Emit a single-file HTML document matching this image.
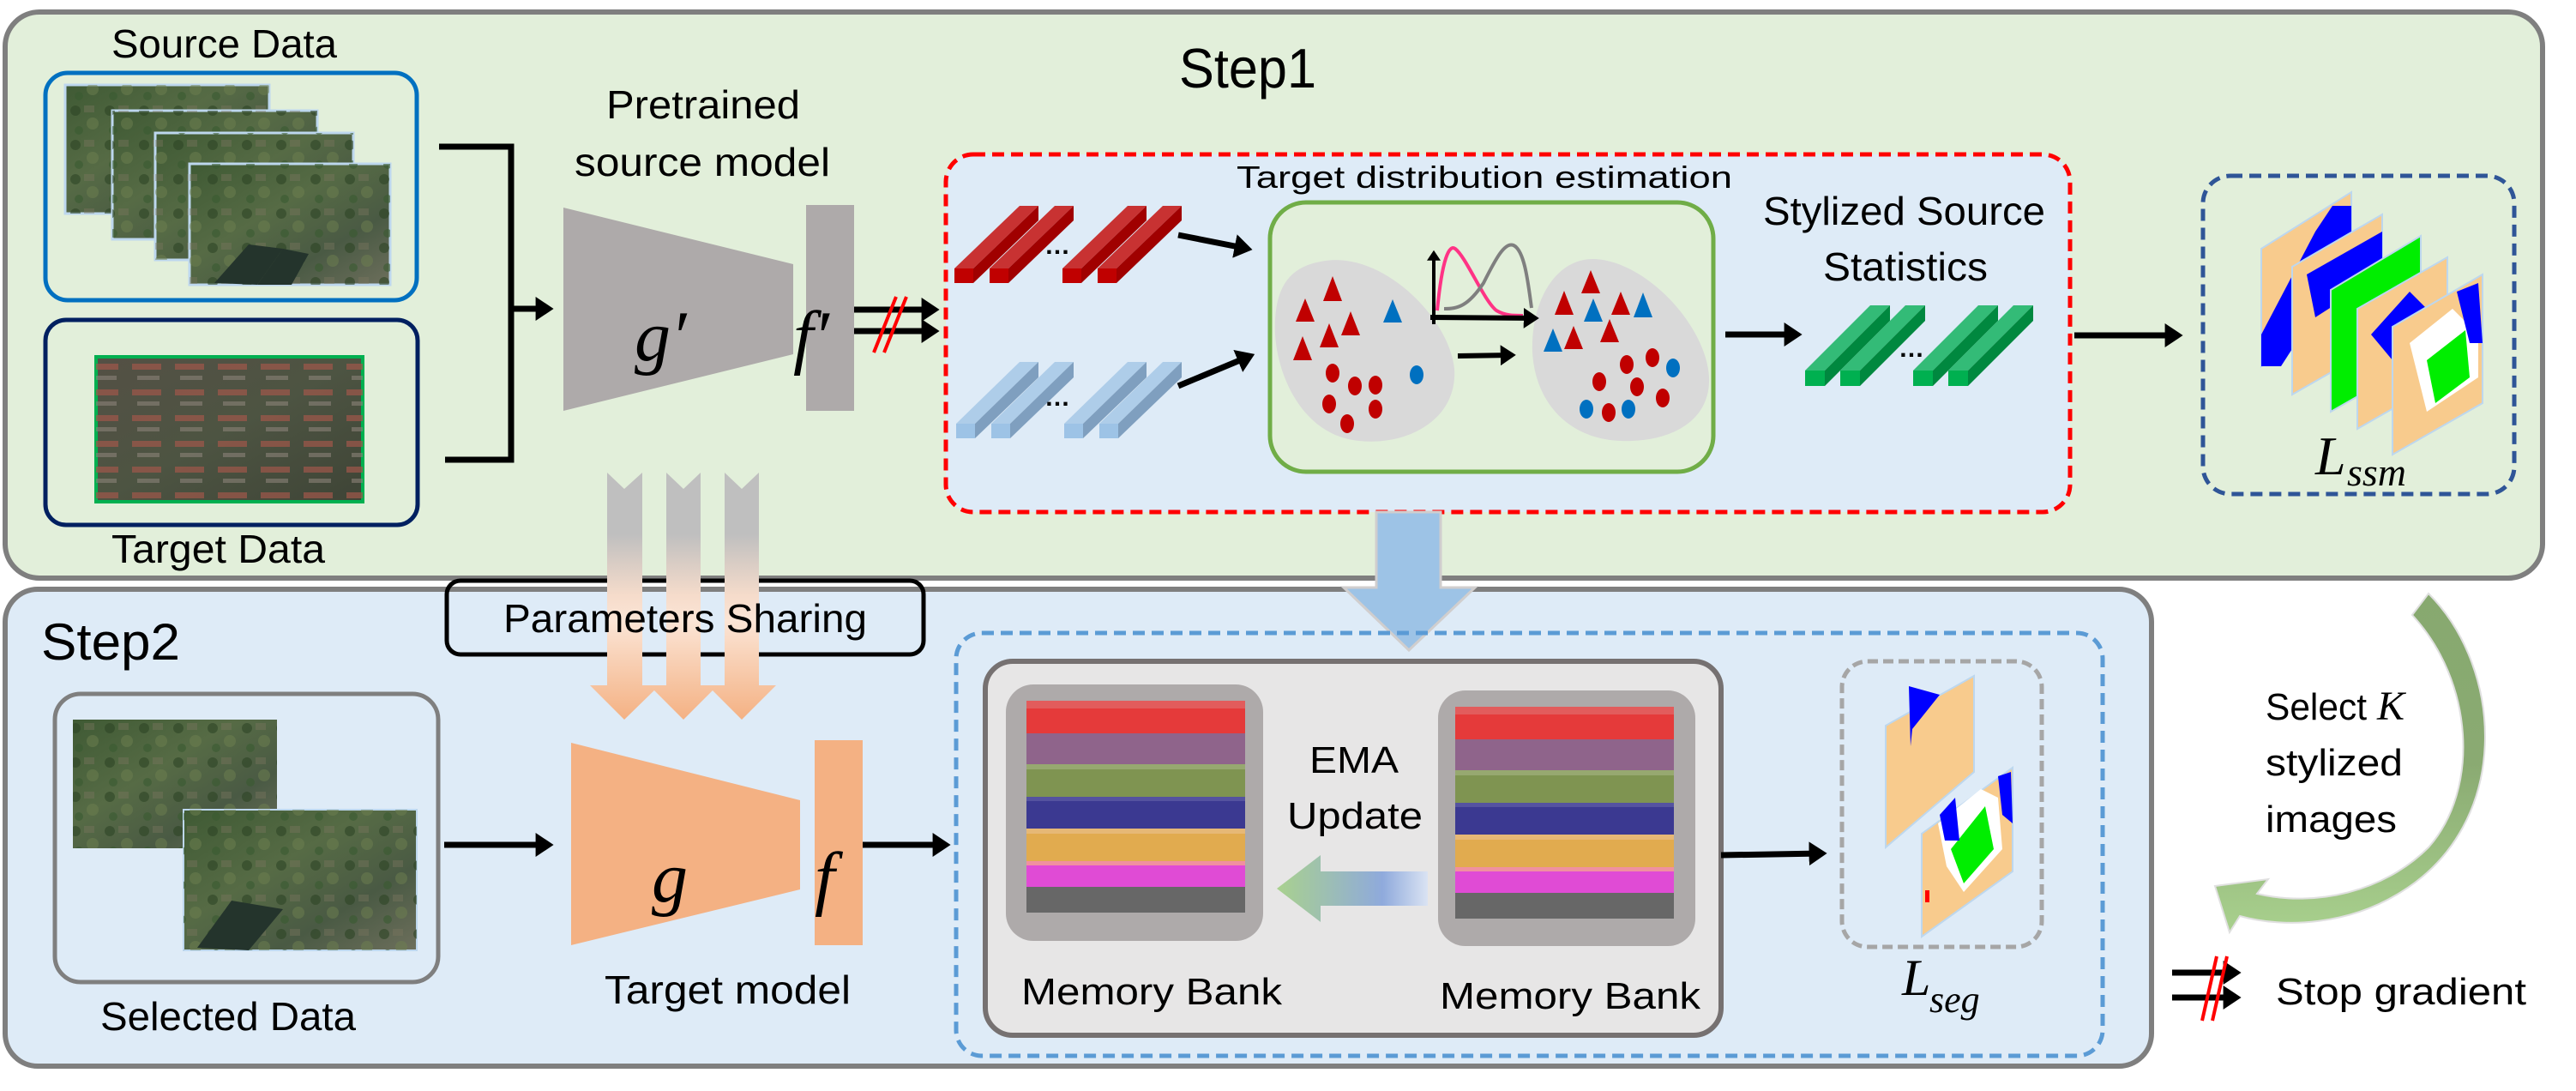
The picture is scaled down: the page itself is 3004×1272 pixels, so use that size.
<!DOCTYPE html>
<html><head><meta charset="utf-8"><style>
html,body{margin:0;padding:0;background:#fff;}
svg{display:block;}
text{font-family:"Liberation Sans",sans-serif;fill:#000;}
.m{font-family:"Liberation Serif",serif;font-style:italic;}
</style></head><body>
<svg width="3004" height="1272" viewBox="0 0 3004 1272" xmlns="http://www.w3.org/2000/svg">
<defs>
<marker id="ah" markerWidth="4" markerHeight="4" refX="2.2" refY="2" orient="auto" markerUnits="strokeWidth"><path d="M0,0 L3,2 L0,4 Z" fill="#000"/></marker>
<linearGradient id="aer" x1="0" y1="0" x2="1" y2="1"><stop offset="0" stop-color="#3f5a34"/><stop offset="0.4" stop-color="#566b45"/><stop offset="0.7" stop-color="#4a5a44"/><stop offset="1" stop-color="#6d6f5c"/></linearGradient>
<linearGradient id="aer2" x1="0" y1="0" x2="1" y2="1"><stop offset="0" stop-color="#545045"/><stop offset="0.5" stop-color="#4d5442"/><stop offset="1" stop-color="#3e4436"/></linearGradient>
<pattern id="tex" width="40" height="40" patternUnits="userSpaceOnUse"><rect width="40" height="40" fill="none"/><circle cx="8" cy="9" r="6" fill="#2d4425" opacity=".6"/><circle cx="28" cy="24" r="7" fill="#6e8050" opacity=".5"/><rect x="18" y="3" width="12" height="8" fill="#7a7660" opacity=".4"/><circle cx="12" cy="32" r="5" fill="#385a30" opacity=".6"/></pattern>
<pattern id="tex2" width="50" height="30" patternUnits="userSpaceOnUse"><rect x="4" y="4" width="34" height="7" fill="#a0574a" opacity=".7"/><rect x="10" y="18" width="26" height="5" fill="#8a8278" opacity=".6"/></pattern>
<linearGradient id="par" x1="0" y1="551" x2="0" y2="839" gradientUnits="userSpaceOnUse"><stop offset="0" stop-color="#bfbfbf"/><stop offset="0.25" stop-color="#bfbfbf"/><stop offset="0.5" stop-color="#f6dccb"/><stop offset="0.6" stop-color="#fbe5d6"/><stop offset="1" stop-color="#f4b183"/></linearGradient>
<linearGradient id="ema" x1="1489" y1="0" x2="1665" y2="0" gradientUnits="userSpaceOnUse"><stop offset="0" stop-color="#a9d18e"/><stop offset="0.7" stop-color="#8faadc"/><stop offset="1" stop-color="#dae3f3"/></linearGradient>
<linearGradient id="cur" x1="0" y1="690" x2="0" y2="1090" gradientUnits="userSpaceOnUse"><stop offset="0" stop-color="#87a96f"/><stop offset="0.5" stop-color="#8aaa72"/><stop offset="1" stop-color="#a9d18e"/></linearGradient>
</defs>

<rect x="6" y="14" width="2959" height="660" rx="40" fill="#e2efda" stroke="#7f7f7f" stroke-width="6"/>
<rect x="6" y="687" width="2503" height="556" rx="38" fill="#deebf7" stroke="#7f7f7f" stroke-width="6"/>

<text x="1375" y="102" font-size="65" textLength="160" lengthAdjust="spacingAndGlyphs">Step1</text>

<text x="130" y="67" font-size="46" textLength="263" lengthAdjust="spacingAndGlyphs">Source Data</text>
<rect x="53" y="85" width="433" height="265" rx="26" fill="#e2efda" stroke="#0070c0" stroke-width="5"/>
<g stroke="#bdd7ee" stroke-width="3">
<rect x="76" y="99" width="238" height="150" fill="url(#aer)"/><rect x="76" y="99" width="238" height="150" fill="url(#tex)" stroke="none"/>
<rect x="131" y="129" width="239" height="150" fill="url(#aer)"/><rect x="131" y="129" width="239" height="150" fill="url(#tex)" stroke="none"/>
<rect x="181" y="155" width="231" height="148" fill="url(#aer)"/><rect x="181" y="155" width="231" height="148" fill="url(#tex)" stroke="none"/>
<rect x="221" y="191" width="234" height="141" fill="url(#aer)"/><rect x="221" y="191" width="234" height="141" fill="url(#tex)" stroke="none"/>
</g>
<polygon points="250,330 290,285 330,290 300,332" fill="#24342c"/>
<polygon points="300,332 330,290 360,296 340,332" fill="#24342c"/>
<text x="130" y="656" font-size="46" textLength="249" lengthAdjust="spacingAndGlyphs">Target Data</text>
<rect x="53" y="373" width="434" height="239" rx="24" fill="#e2efda" stroke="#002060" stroke-width="5"/>
<rect x="112" y="416" width="311" height="169" fill="url(#aer2)" stroke="#00b050" stroke-width="4"/>
<rect x="112" y="416" width="311" height="169" fill="url(#tex2)"/>

<polyline points="512,171 596,171 596,536 519,536" fill="none" stroke="#000" stroke-width="7"/>
<line x1="596" y1="360" x2="640" y2="360" stroke="#000" stroke-width="7" marker-end="url(#ah)"/>

<text x="707" y="138" font-size="46" textLength="226" lengthAdjust="spacingAndGlyphs">Pretrained</text>
<text x="670" y="205" font-size="46" textLength="298" lengthAdjust="spacingAndGlyphs">source model</text>
<polygon points="657,242 925,308 925,413 657,479" fill="#aeaaaa"/>
<rect x="940" y="239" width="56" height="240" fill="#aeaaaa"/>
<text x="740" y="420" font-size="84" class="m">g′</text>
<text x="925" y="420" font-size="84" class="m">f′</text>
<line x1="996" y1="361" x2="1090" y2="361" stroke="#000" stroke-width="7" marker-end="url(#ah)"/>
<line x1="996" y1="386" x2="1090" y2="386" stroke="#000" stroke-width="7" marker-end="url(#ah)"/>
<line x1="1019" y1="411" x2="1045" y2="346" stroke="#ff0000" stroke-width="4"/>
<line x1="1031" y1="411" x2="1057" y2="346" stroke="#ff0000" stroke-width="4"/>

<rect x="1103" y="180" width="1311" height="417" rx="32" fill="#deebf7" stroke="#ff0000" stroke-width="5" stroke-dasharray="14,8"/>
<text x="1442" y="219" font-size="36" textLength="578" lengthAdjust="spacingAndGlyphs">Target distribution estimation</text>

<g id="rb">
<polygon points="1113,313 1189,240 1211,240 1135,313" fill="#c83232"/>
<polygon points="1135,313 1211,240 1211,257 1135,330" fill="#a00000"/>
<rect x="1113" y="313" width="22" height="17" fill="#c00000"/>
</g>
<use href="#rb" x="41"/><use href="#rb" x="126"/><use href="#rb" x="167"/>
<text x="1218" y="296" font-size="30" font-weight="bold">…</text>
<g id="bb">
<polygon points="1115,494 1189,422 1211,422 1137,494" fill="#aecde9"/>
<polygon points="1137,494 1211,422 1211,440 1137,511" fill="#7f9fbf"/>
<rect x="1115" y="494" width="22" height="17" fill="#9dc3e6"/>
</g>
<use href="#bb" x="41"/><use href="#bb" x="126"/><use href="#bb" x="167"/>
<text x="1218" y="473" font-size="30" font-weight="bold">…</text>
<line x1="1374" y1="274" x2="1455" y2="290" stroke="#000" stroke-width="7" marker-end="url(#ah)"/>
<line x1="1374" y1="450" x2="1458" y2="415" stroke="#000" stroke-width="7" marker-end="url(#ah)"/>

<rect x="1481" y="236" width="517" height="314" rx="42" fill="#e2efda" stroke="#70ad47" stroke-width="5"/>
<path d="M1540,305 C1610,290 1690,370 1696,430 C1700,490 1640,520 1585,514 C1520,508 1490,440 1487,390 C1485,340 1500,312 1540,305 Z" fill="#d9d9d9"/>
<path d="M1860,302 C1920,305 1990,380 1993,440 C1995,490 1950,516 1890,514 C1830,512 1790,470 1787,410 C1785,350 1815,300 1860,302 Z" fill="#d9d9d9"/>
<g fill="#c00000">
<polygon points="1554,322 1543,351 1565,351"/><polygon points="1522,348 1511,375 1533,375"/><polygon points="1575,363 1564,391 1586,391"/><polygon points="1550,377 1539,405 1561,405"/><polygon points="1519,392 1508,420 1530,420"/>
<ellipse cx="1554" cy="435" rx="8" ry="11"/><ellipse cx="1580" cy="450" rx="8" ry="11"/><ellipse cx="1604" cy="449" rx="8" ry="11"/><ellipse cx="1550" cy="471" rx="8" ry="11"/><ellipse cx="1604" cy="477" rx="8" ry="11"/><ellipse cx="1571" cy="494" rx="8" ry="11"/>
<polygon points="1855,315 1844,342 1866,342"/><polygon points="1824,339 1813,367 1835,367"/><polygon points="1890,340 1879,367 1901,367"/><polygon points="1835,380 1824,407 1846,407"/><polygon points="1877,372 1866,399 1888,399"/>
<ellipse cx="1897" cy="425" rx="8" ry="11"/><ellipse cx="1927" cy="417" rx="8" ry="11"/><ellipse cx="1865" cy="445" rx="8" ry="11"/><ellipse cx="1909" cy="451" rx="8" ry="11"/><ellipse cx="1939" cy="464" rx="8" ry="11"/><ellipse cx="1876" cy="481" rx="8" ry="11"/>
</g>
<g fill="#0070c0">
<polygon points="1624,349 1613,376 1635,376"/><ellipse cx="1652" cy="437" rx="8" ry="11"/>
<polygon points="1858,348 1847,375 1869,375"/><polygon points="1916,341 1905,370 1927,370"/><polygon points="1811,383 1800,410 1822,410"/>
<ellipse cx="1951" cy="429" rx="8" ry="11"/><ellipse cx="1850" cy="477" rx="8" ry="11"/><ellipse cx="1899" cy="477" rx="8" ry="11"/>
</g>
<path d="M1676,362 C1682,300 1690,285 1697,290 C1710,300 1730,350 1745,362 C1755,368 1765,368 1776,368" fill="none" stroke="#ff3385" stroke-width="4"/>
<path d="M1684,360 C1700,360 1712,357 1730,330 C1745,300 1755,282 1765,286 C1778,292 1782,330 1786,359" fill="none" stroke="#7f7f7f" stroke-width="4"/>
<line x1="1672" y1="378" x2="1672" y2="295" stroke="#000" stroke-width="4" marker-end="url(#ah)"/>
<line x1="1668" y1="370" x2="1790" y2="371" stroke="#000" stroke-width="6" marker-end="url(#ah)"/>
<line x1="1700" y1="415" x2="1763" y2="414" stroke="#000" stroke-width="6" marker-end="url(#ah)"/>
<line x1="2012" y1="390" x2="2096" y2="390" stroke="#000" stroke-width="7" marker-end="url(#ah)"/>

<text x="2056" y="262" font-size="46" textLength="329" lengthAdjust="spacingAndGlyphs">Stylized Source</text>
<text x="2126" y="327" font-size="46" textLength="192" lengthAdjust="spacingAndGlyphs">Statistics</text>
<g id="gb">
<polygon points="2105,432 2181,356 2204,356 2128,432" fill="#33bb77"/>
<polygon points="2128,432 2204,356 2204,374 2128,450" fill="#00883f"/>
<rect x="2105" y="432" width="23" height="18" fill="#00b050"/>
</g>
<use href="#gb" x="41"/><use href="#gb" x="126"/><use href="#gb" x="167"/>
<text x="2214" y="416" font-size="30" font-weight="bold">…</text>
<line x1="2419" y1="391" x2="2540" y2="391" stroke="#000" stroke-width="7" marker-end="url(#ah)"/>

<rect x="2569" y="205" width="363" height="371" rx="32" fill="none" stroke="#2f5597" stroke-width="5" stroke-dasharray="14,8"/>
<g stroke="#bdd7ee" stroke-width="2">
<polygon points="2637,290 2742,224 2742,367 2637,427" fill="#f8cb8d"/>
<polygon points="2637,390 2700,270 2720,240 2742,240 2742,300 2660,427 2637,427" fill="#0000ff" stroke="none"/>
<polygon points="2673,311 2778,250 2778,400 2673,460" fill="#f8cb8d"/>
<polygon points="2690,320 2778,270 2778,320 2700,370" fill="#0000ff" stroke="none"/>
<polygon points="2718,338 2823,275 2823,420 2718,480" fill="#00ee00"/>
<polygon points="2749,360 2854,300 2854,440 2749,500" fill="#f8cb8d"/>
<polygon points="2765,390 2810,340 2830,360 2790,420" fill="#0000ff" stroke="none"/>
<polygon points="2790,381 2895,320 2895,470 2790,530" fill="#f8cb8d"/>
<polygon points="2810,400 2860,360 2890,390 2890,440 2830,480" fill="#ffffff" stroke="none"/>
<polygon points="2830,420 2875,385 2880,440 2840,470" fill="#00ee00" stroke="none"/>
<polygon points="2865,340 2890,330 2895,400 2880,400" fill="#0000ff" stroke="none"/>
</g>
<text x="2700" y="553" font-size="64" class="m">L</text>
<text x="2737" y="566" font-size="46" class="m">ssm</text>

<polygon points="1605,597 1680,597 1680,685 1720,685 1643,758 1567,685 1605,685" fill="#9dc3e6" stroke="#d0cece" stroke-width="3"/>

<rect x="521" y="677" width="556" height="86" rx="16" fill="none" stroke="#000" stroke-width="5"/>
<g fill="url(#par)">
<polygon points="708,551 728,570 749,551 749,799 769,799 728,839 688,799 708,799"/>
<polygon points="777,551 797,570 817,551 817,799 837,799 797,839 757,799 777,799"/>
<polygon points="845,551 865,570 885,551 885,799 905,799 865,839 825,799 845,799"/>
</g>
<text x="587" y="737" font-size="46" textLength="424" lengthAdjust="spacingAndGlyphs">Parameters Sharing</text>

<text x="48" y="769" font-size="60" textLength="162" lengthAdjust="spacingAndGlyphs">Step2</text>
<rect x="64" y="809" width="447" height="336" rx="30" fill="none" stroke="#7f7f7f" stroke-width="5"/>
<rect x="85" y="839" width="238" height="150" fill="url(#aer)"/><rect x="85" y="839" width="238" height="150" fill="url(#tex)"/>
<rect x="214" y="944" width="272" height="164" fill="url(#aer)" stroke="#bdd7ee" stroke-width="2"/><rect x="214" y="944" width="272" height="164" fill="url(#tex)"/>
<polygon points="230,1105 270,1050 330,1060 290,1108" fill="#24342c"/>
<text x="117" y="1201" font-size="46" textLength="298" lengthAdjust="spacingAndGlyphs">Selected Data</text>
<line x1="518" y1="985" x2="640" y2="985" stroke="#000" stroke-width="7" marker-end="url(#ah)"/>
<polygon points="666,866 933,933 933,1037 666,1102" fill="#f4b183"/>
<rect x="950" y="863" width="56" height="239" fill="#f4b183"/>
<text x="760" y="1051" font-size="84" class="m">g</text>
<text x="950" y="1051" font-size="84" class="m">f</text>
<text x="705" y="1170" font-size="46" textLength="287" lengthAdjust="spacingAndGlyphs">Target model</text>
<line x1="1006" y1="985" x2="1103" y2="985" stroke="#000" stroke-width="7" marker-end="url(#ah)"/>

<rect x="1115" y="738" width="1337" height="493" rx="30" fill="none" stroke="#5b9bd5" stroke-width="5" stroke-dasharray="14,8"/>
<rect x="1149" y="771" width="858" height="436" rx="32" fill="#e7e6e6" stroke="#767171" stroke-width="6"/>
<rect x="1173" y="798" width="300" height="299" rx="32" fill="#aeaaaa"/>
<rect x="1677" y="805" width="300" height="298" rx="32" fill="#aeaaaa"/>
<g id="mb">
<rect x="1197" y="817" width="255" height="38" fill="#e53a3a"/><rect x="1197" y="817" width="255" height="9" fill="#e25c5c"/>
<rect x="1197" y="855" width="255" height="36" fill="#8f648b"/>
<rect x="1197" y="891" width="255" height="38" fill="#7f9451"/><rect x="1197" y="891" width="255" height="6" fill="#97a870"/>
<rect x="1197" y="929" width="255" height="37" fill="#3b3991"/><rect x="1197" y="929" width="255" height="5" fill="#5553a0"/>
<rect x="1197" y="966" width="255" height="38" fill="#e1ab4f"/><rect x="1197" y="966" width="255" height="6" fill="#e6b876"/>
<rect x="1197" y="1004" width="255" height="30" fill="#e04bd5"/><rect x="1197" y="1004" width="255" height="5" fill="#f090a0"/>
<rect x="1197" y="1034" width="255" height="30" fill="#676767"/>
</g>
<use href="#mb" x="500" y="7"/>
<text x="1527" y="901" font-size="44" textLength="104" lengthAdjust="spacingAndGlyphs">EMA</text>
<text x="1501" y="966" font-size="44" textLength="158" lengthAdjust="spacingAndGlyphs">Update</text>
<polygon points="1665,1016 1540,1016 1540,997 1489,1036 1540,1075 1540,1056 1665,1056" fill="url(#ema)"/>
<text x="1191" y="1171" font-size="44" textLength="304" lengthAdjust="spacingAndGlyphs">Memory Bank</text>
<text x="1679" y="1176" font-size="44" textLength="304" lengthAdjust="spacingAndGlyphs">Memory Bank</text>
<line x1="2007" y1="997" x2="2125" y2="995" stroke="#000" stroke-width="7" marker-end="url(#ah)"/>

<rect x="2148" y="771" width="233" height="333" rx="30" fill="none" stroke="#a6a6a6" stroke-width="5" stroke-dasharray="12,6"/>
<polygon points="2199,846 2302,788 2302,900 2199,988" fill="#f8cb8d" stroke="#bdd7ee" stroke-width="2"/>
<polygon points="2226,800 2262,810 2230,850 2228,870" fill="#0000ff"/>
<polygon points="2241,972 2347,895 2347,1016 2241,1092" fill="#f8cb8d" stroke="#bdd7ee" stroke-width="2"/>
<polygon points="2260,960 2310,920 2330,930 2335,990 2290,1040 2270,1010" fill="#ffffff"/>
<polygon points="2275,990 2315,940 2325,990 2290,1030" fill="#00ee00"/>
<polygon points="2330,905 2345,900 2347,960 2335,950" fill="#0000ff"/>
<polygon points="2262,950 2280,930 2285,980 2268,980" fill="#0000ff"/>
<rect x="2245" y="1038" width="5" height="14" fill="#ff0000"/>
<text x="2218" y="1160" font-size="60" class="m">L</text>
<text x="2250" y="1180" font-size="44" class="m">seg</text>

<!-- curved arrow -->
<path d="M2832,692 C2920,780 2930,960 2800,1040 C2740,1078 2665,1083 2612,1068 L2600,1087 L2583,1033 L2645,1025 L2632,1042 C2700,1058 2780,1040 2832,988 C2892,920 2885,795 2813,717 Z" fill="url(#cur)" stroke="#e0e0e0" stroke-width="2"/>
<text x="2642" y="839" font-size="44" textLength="118" lengthAdjust="spacingAndGlyphs">Select</text>
<text x="2772" y="839" font-size="48" class="m">K</text>
<text x="2642" y="904" font-size="44" textLength="160" lengthAdjust="spacingAndGlyphs">stylized</text>
<text x="2642" y="970" font-size="44" textLength="153" lengthAdjust="spacingAndGlyphs">images</text>

<line x1="2533" y1="1134" x2="2608" y2="1134" stroke="#000" stroke-width="7" marker-end="url(#ah)"/>
<line x1="2533" y1="1163" x2="2608" y2="1163" stroke="#000" stroke-width="7" marker-end="url(#ah)"/>
<line x1="2568" y1="1190" x2="2585" y2="1115" stroke="#ff0000" stroke-width="4"/>
<line x1="2580" y1="1190" x2="2597" y2="1115" stroke="#ff0000" stroke-width="4"/>
<text x="2654" y="1171" font-size="44" textLength="292" lengthAdjust="spacingAndGlyphs">Stop gradient</text>
</svg>
</body></html>
